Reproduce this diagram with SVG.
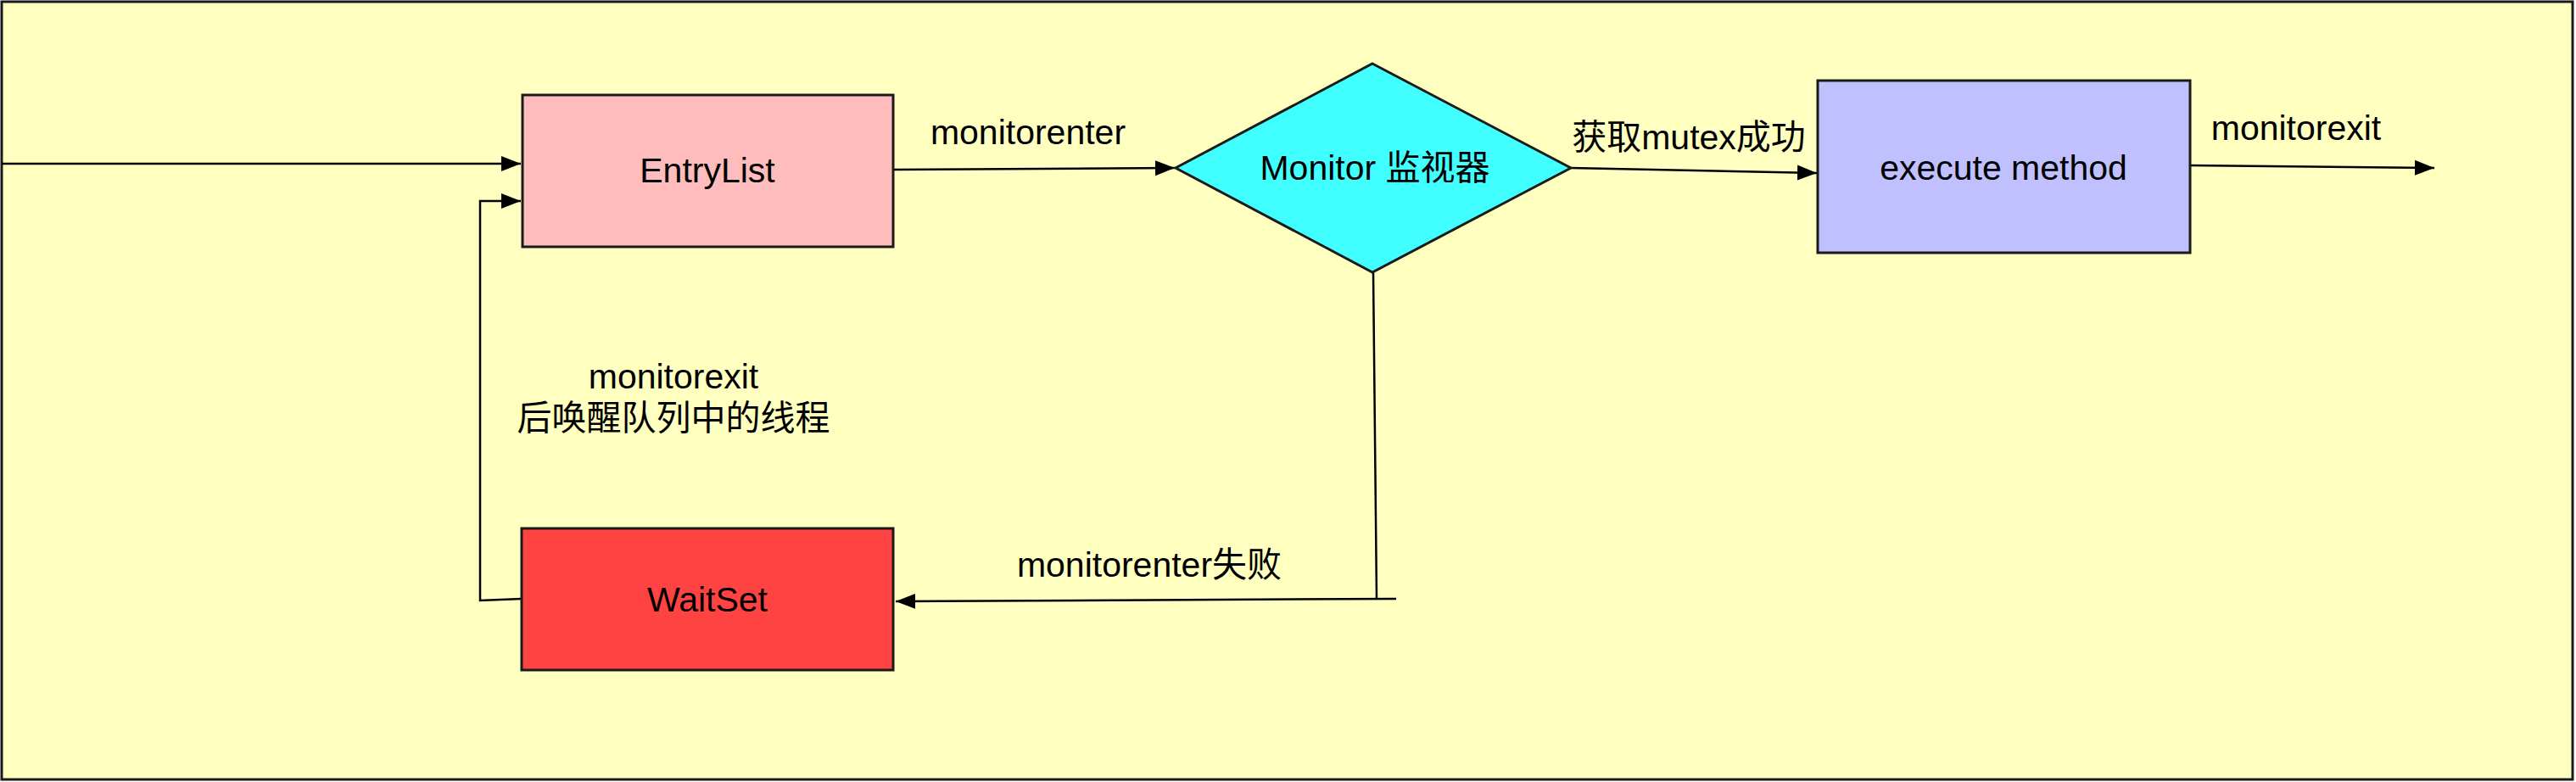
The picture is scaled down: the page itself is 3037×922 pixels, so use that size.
<svg xmlns="http://www.w3.org/2000/svg" width="3037" height="922" viewBox="0 0 3037 922">
<style>
.shape{stroke:#1a1a1a;stroke-width:3}
.edge{fill:none;stroke:#000;stroke-width:2.5}
.lbl{font-family:"Liberation Sans","Noto Sans CJK SC",sans-serif;font-size:41px;fill:#000;text-anchor:middle}
</style>
<defs>
<marker id="arr" markerUnits="userSpaceOnUse" markerWidth="24" markerHeight="20" refX="23" refY="9" orient="auto" viewBox="0 0 24 18">
<path d="M0,0 L23,9 L0,18 z" fill="#000"/>
</marker>
</defs>
<rect id="background" x="2" y="2" width="3031" height="917" fill="#ffffc0" stroke="#1a1a1a" stroke-width="3"/>
<g id="connectors">
<path class="edge" d="M2,193 L614,193" marker-end="url(#arr)"/>
<path class="edge" d="M1054,200 L1385,198" marker-end="url(#arr)"/>
<path class="edge" d="M1852,198 L2142,204" marker-end="url(#arr)"/>
<path class="edge" d="M2582,195 L2870,198" marker-end="url(#arr)"/>
<path class="edge" d="M1619,321 L1623,707"/>
<path class="edge" d="M1646,706 L1056,709" marker-end="url(#arr)"/>
<path class="edge" d="M615,706 L566,708 L566,237 L614,237" marker-end="url(#arr)"/>
<text class="lbl" x="1212" y="170">monitorenter</text>
<text class="lbl" x="1991" y="176">获取mutex成功</text>
<text class="lbl" x="2707" y="165">monitorexit</text>
<text class="lbl" x="794" y="458">monitorexit</text>
<text class="lbl" x="794" y="507">后唤醒队列中的线程</text>
<text class="lbl" x="1355" y="680">monitorenter失败</text>
</g>
<g id="entrylist">
<rect class="shape" x="616" y="112" width="437" height="179" fill="#ffbcbc"/>
<text class="lbl" x="834" y="215">EntryList</text>
</g>
<g id="monitor">
<polygon class="shape" points="1618,75 1852,198 1618,321 1386,198" fill="#42ffff"/>
<text class="lbl" x="1621" y="212">Monitor 监视器</text>
</g>
<g id="execute">
<rect class="shape" x="2143" y="95" width="439" height="203" fill="#c0c0ff"/>
<text class="lbl" x="2362" y="212">execute method</text>
</g>
<g id="waitset">
<rect class="shape" x="615" y="623" width="438" height="167" fill="#ff4242"/>
<text class="lbl" x="834" y="721">WaitSet</text>
</g>
</svg>
